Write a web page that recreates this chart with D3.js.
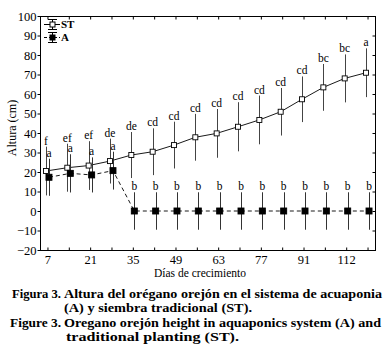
<!DOCTYPE html>
<html>
<head>
<meta charset="utf-8">
<script src="https://cdn.jsdelivr.net/npm/d3@7/dist/d3.min.js"></script>
<style>
  body { margin: 0; background: #fff; }
  svg text { font-family: "Liberation Serif", "Times New Roman", serif; fill: #000; }
</style>
</head>
<body>
<script>
// days of growth (the 105 sample is missing in the original)
var days = ['7', '14', '21', '28', '35', '42', '49', '56', '63', '70', '77', '84', '91', '98', '112', '119'];
var tickDays = ['7', '21', '35', '49', '63', '77', '91', '112'];
var yTicks = [-20, -10, 0, 10, 20, 30, 40, 50, 60, 70, 80, 90, 100];

// siembra tradicional (ST)
var stValues = [20.5, 22.2, 23.3, 25.6, 28.7, 30.4, 33.8, 37.8, 39.8, 43.2, 46.7, 50.9, 57.3, 63.4, 68.0, 70.9];
var stErrors = [12.5, 12.3, 12.5, 11.5, 11.8, 12, 12, 12, 12.5, 12.6, 12.5, 12.2, 11.7, 12, 12.3, 12.5];
var stLetters = ['f', 'ef', 'ef', 'de', 'de', 'cd', 'cd', 'cd', 'cd', 'cd', 'cd', 'cd', 'cd', 'bc', 'bc', 'a'];

// acuaponia (A)
var aValues = [17.3, 19.3, 18.5, 20.7, 0, 0, 0, 0, 0, 0, 0, 0, 0, 0, 0, 0];
var aErrors = [9.5, 9.8, 9, 9.7, 9.6, 9.6, 9.6, 9.6, 9.6, 9.6, 9.6, 9.6, 9.6, 9.6, 9.6, 9.6];
var aLetters = ['a', 'a', 'a', 'a', 'b', 'b', 'b', 'b', 'b', 'b', 'b', 'b', 'b', 'b', 'b', 'b'];

var width = 385, height = 362;
var plot = { left: 40, right: 375, top: 16, bottom: 250 };

var svg = d3.select('body').append('svg')
  .attr('width', width)
  .attr('height', height);

var x = d3.scalePoint().domain(days).range([plot.left, plot.right]).padding(0.35);
var y = d3.scaleLinear().domain([-20, 100]).range([plot.bottom, plot.top]);

// frame
svg.append('rect')
  .attr('x', plot.left + 0.5).attr('y', plot.top + 0.5)
  .attr('width', plot.right - plot.left).attr('height', plot.bottom - plot.top)
  .attr('fill', 'none').attr('stroke', '#000').attr('stroke-width', 1);

// axes
var bottomAxis = d3.axisBottom(x).tickSizeInner(-3).tickSizeOuter(0)
  .tickFormat(function(d) { return tickDays.indexOf(d) >= 0 ? d : ''; });
var gB = svg.append('g').attr('transform', 'translate(0,' + (plot.bottom + 0.5) + ')').call(bottomAxis);
gB.selectAll('text').attr('dy', null).attr('y', 13.5).style('font-size', '12.5px');

var gT = svg.append('g').attr('transform', 'translate(0,' + (plot.top + 0.5) + ')')
  .call(d3.axisTop(x).tickSizeInner(-3).tickSizeOuter(0).tickFormat(''));

var gL = svg.append('g').attr('transform', 'translate(' + (plot.left + 0.5) + ',0)')
  .call(d3.axisLeft(y).tickValues(yTicks).tickSizeInner(3).tickSizeOuter(0).tickPadding(1));
gL.selectAll('text').style('font-size', '12.5px');

var gR = svg.append('g').attr('transform', 'translate(' + (plot.right + 0.5) + ',0)')
  .call(d3.axisRight(y).tickValues(yTicks).tickSizeInner(-3).tickSizeOuter(0).tickFormat(''));

[gB, gT, gL, gR].forEach(function(g) {
  g.attr('font-family', null);
  g.select('.domain').remove();
  g.selectAll('line').attr('stroke', '#000');
});

// axis titles
svg.append('text')
  .attr('transform', 'translate(16,' + 128 + ') rotate(-90)')
  .attr('text-anchor', 'middle')
  .style('font-size', '12px')
  .text('Altura (cm)');

svg.append('text')
  .attr('x', 200).attr('y', 277)
  .attr('text-anchor', 'middle')
  .style('font-size', '11.5px')
  .text('Días de crecimiento');

function drawSeries(values, errors, letters, shift, opts) {
  var pts = days.map(function(d, i) {
    return { x: x(d) + shift, v: values[i], e: errors[i], l: letters[i] };
  });

  svg.append('path')
    .datum(pts)
    .attr('fill', 'none')
    .attr('stroke', '#000')
    .attr('stroke-width', 0.9)
    .attr('stroke-dasharray', opts.dash)
    .attr('d', d3.line().x(function(p) { return p.x; }).y(function(p) { return y(p.v); }));

  svg.append('g').selectAll('line')
    .data(pts).enter().append('line')
    .attr('x1', function(p) { return Math.round(p.x) + 0.5; })
    .attr('x2', function(p) { return Math.round(p.x) + 0.5; })
    .attr('y1', function(p) { return y(p.v + p.e); })
    .attr('y2', function(p) { return y(p.v - p.e); })
    .attr('stroke', opts.barColor)
    .attr('stroke-width', 1);

  svg.append('g').selectAll('rect')
    .data(pts).enter().append('rect')
    .attr('x', function(p) { return p.x - opts.size / 2; })
    .attr('y', function(p) { return y(p.v) - opts.size / 2; })
    .attr('width', opts.size).attr('height', opts.size)
    .attr('fill', opts.fill)
    .attr('stroke', '#000').attr('stroke-width', 0.9);

  svg.append('g').selectAll('text')
    .data(pts).enter().append('text')
    .attr('x', function(p) { return p.x; })
    .attr('y', function(p) { return y(p.v + p.e) - 2; })
    .attr('text-anchor', 'middle')
    .style('font-size', '11.5px')
    .text(function(p) { return p.l; });
}

drawSeries(stValues, stErrors, stLetters, -1.5, { dash: null, fill: '#fff', size: 5, barColor: '#444' });
drawSeries(aValues, aErrors, aLetters, 1.5, { dash: '4,3', fill: '#000', size: 6, barColor: '#333' });

// legend
var legend = [
  { name: 'ST', fill: '#fff', dash: null, yy: 24 },
  { name: 'A', fill: '#000', dash: '3,2', yy: 37 }
];
var lg = svg.append('g').selectAll('g').data(legend).enter().append('g')
  .attr('transform', function(d) { return 'translate(0,' + d.yy + ')'; });
lg.append('line').attr('x1', 44).attr('x2', 60).attr('y1', 0.5).attr('y2', 0.5)
  .attr('stroke', '#000').attr('stroke-dasharray', function(d) { return d.dash; });
lg.append('line').attr('x1', 52.5).attr('x2', 52.5).attr('y1', -5).attr('y2', 6).attr('stroke', '#000');
lg.append('line').attr('x1', 48).attr('x2', 57).attr('y1', -4.5).attr('y2', -4.5).attr('stroke', '#000');
lg.append('line').attr('x1', 48).attr('x2', 57).attr('y1', 5.5).attr('y2', 5.5).attr('stroke', '#000');
lg.append('rect').attr('x', 50).attr('y', -2).attr('width', 5).attr('height', 5)
  .attr('fill', function(d) { return d.fill; }).attr('stroke', '#000');
lg.append('text').attr('x', 61).attr('y', 4).style('font-size', '11px').style('font-weight', 'bold')
  .text(function(d) { return d.name; });

// caption
var cap = svg.append('g').style('font-weight', 'bold').style('font-size', '12.5px');
cap.append('text').attr('x', 12).attr('y', 298)
  .attr('textLength', 49).attr('lengthAdjust', 'spacingAndGlyphs')
  .text('Figura 3.');
cap.append('text').attr('x', 64).attr('y', 298)
  .attr('textLength', 318).attr('lengthAdjust', 'spacingAndGlyphs')
  .text('Altura del orégano orejón en el sistema de acuaponia');
cap.append('text').attr('x', 64).attr('y', 312)
  .attr('textLength', 188).attr('lengthAdjust', 'spacingAndGlyphs')
  .text('(A) y siembra tradicional (ST).');
cap.append('text').attr('x', 10).attr('y', 326.5)
  .attr('textLength', 51).attr('lengthAdjust', 'spacingAndGlyphs')
  .text('Figure 3.');
cap.append('text').attr('x', 64).attr('y', 326.5)
  .attr('textLength', 317).attr('lengthAdjust', 'spacingAndGlyphs')
  .text('Oregano orejón height in aquaponics system (A) and');
cap.append('text').attr('x', 66).attr('y', 340.5)
  .attr('textLength', 173).attr('lengthAdjust', 'spacingAndGlyphs')
  .text('traditional planting (ST).');
</script>
</body>
</html>
